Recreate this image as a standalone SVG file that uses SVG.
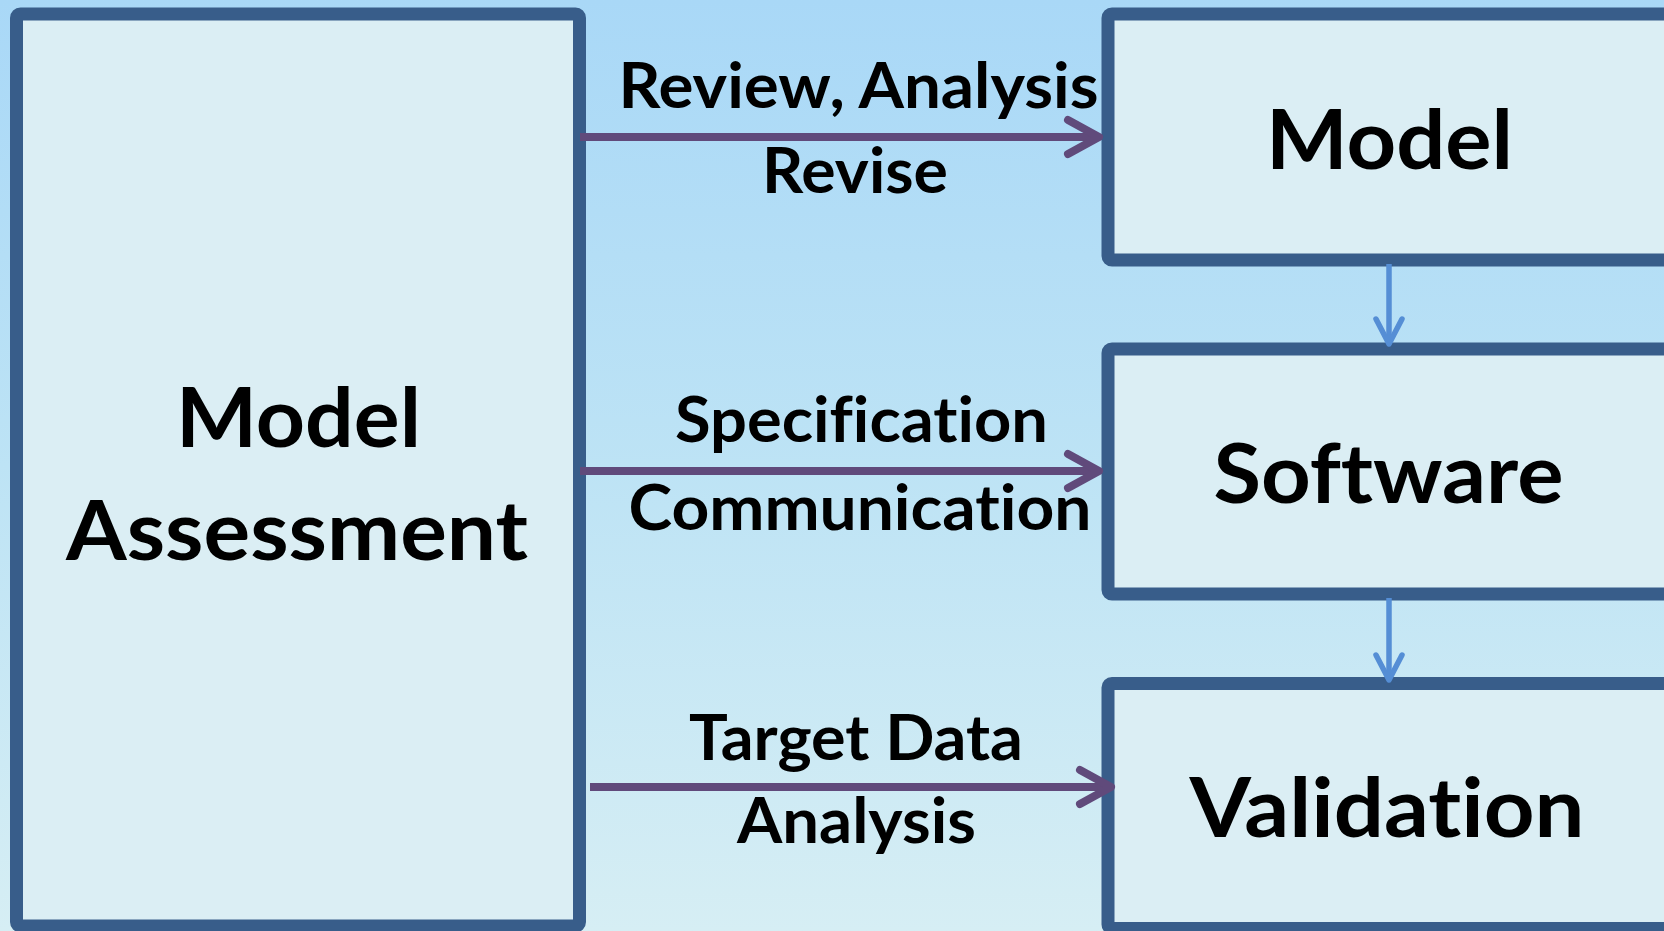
<svg xmlns="http://www.w3.org/2000/svg" width="1664" height="931" viewBox="0 0 1664 931">
  <defs>
    <linearGradient id="bg" x1="0" y1="0" x2="0" y2="1">
      <stop offset="0" stop-color="#a9d8f7"/>
      <stop offset="0.5" stop-color="#bde3f5"/>
      <stop offset="1" stop-color="#d6eef4"/>
    </linearGradient>
    <marker id="headPurple" markerUnits="userSpaceOnUse" markerWidth="60" markerHeight="60" refX="0" refY="0" orient="auto" overflow="visible">
      <path d="M-31,-17 L0,0 L-31,17" fill="none" stroke="#604a7b" stroke-width="8" stroke-linecap="round" stroke-linejoin="round"/>
    </marker>
    <marker id="headBlue" markerUnits="userSpaceOnUse" markerWidth="60" markerHeight="60" refX="0" refY="0" orient="auto" overflow="visible">
      <path d="M-25,-13 L0,0 L-25,13" fill="none" stroke="#558ed5" stroke-width="5.5" stroke-linecap="round" stroke-linejoin="round"/>
    </marker>
  </defs>
  <style>
    .box { fill: #dbeef4; stroke: #385d8a; stroke-width: 13; }
    .lbl { font-family: Lato, "Open Sans", "Liberation Sans", sans-serif; font-weight: 700; fill: #000; text-anchor: middle;
           font-variant-ligatures: none; font-feature-settings: "liga" 0, "clig" 0, "dlig" 0; }
    .sm { font-size: 63px; }
    .lg { font-size: 82px; }
    .flow { fill: none; stroke: #604a7b; stroke-width: 8; marker-end: url(#headPurple); }
    .step { fill: none; stroke: #558ed5; stroke-width: 5.5; marker-end: url(#headBlue); }
  </style>

  <rect x="0" y="0" width="1664" height="931" fill="url(#bg)"/>

  <!-- assessment column -->
  <g id="node-assessment">
    <rect class="box" x="16.5" y="14" width="563" height="912" rx="4"/>
    <text class="lbl lg" x="298.5" y="447" textLength="245" lengthAdjust="spacingAndGlyphs">Model</text>
    <text class="lbl lg" x="297" y="560" textLength="462" lengthAdjust="spacingAndGlyphs">Assessment</text>
  </g>

  <!-- right-hand stack -->
  <g id="node-model">
    <rect class="box" x="1108" y="14" width="620" height="246" rx="4"/>
    <text class="lbl lg" x="1389.5" y="169" textLength="247" lengthAdjust="spacingAndGlyphs">Model</text>
  </g>
  <g id="node-software">
    <rect class="box" x="1108" y="349" width="620" height="245" rx="4"/>
    <text class="lbl lg" x="1388.5" y="503" textLength="350" lengthAdjust="spacingAndGlyphs">Software</text>
  </g>
  <g id="node-validation">
    <rect class="box" x="1108" y="683.5" width="620" height="245" rx="4"/>
    <text class="lbl lg" x="1387" y="837" textLength="395" lengthAdjust="spacingAndGlyphs">Validation</text>
  </g>

  <!-- connectors -->
  <g id="connectors">
    <line class="flow" x1="580" y1="137" x2="1099" y2="137"/>
    <line class="flow" x1="580" y1="471" x2="1099" y2="471"/>
    <line class="flow" x1="590" y1="787" x2="1111" y2="787"/>
    <line class="step" x1="1389" y1="264" x2="1389" y2="344"/>
    <line class="step" x1="1389" y1="598" x2="1389" y2="680"/>
  </g>

  <!-- connector labels -->
  <g id="labels">
    <text class="lbl sm" x="858.5" y="108" textLength="480" lengthAdjust="spacingAndGlyphs">Review, Analysis</text>
    <text class="lbl sm" x="855" y="193" textLength="186" lengthAdjust="spacingAndGlyphs">Revise</text>
    <text class="lbl sm" x="861.5" y="442" textLength="373" lengthAdjust="spacingAndGlyphs">Specification</text>
    <text class="lbl sm" x="860" y="530" textLength="463" lengthAdjust="spacingAndGlyphs">Communication</text>
    <text class="lbl sm" x="856" y="760" textLength="334" lengthAdjust="spacingAndGlyphs">Target Data</text>
    <text class="lbl sm" x="856.5" y="843" textLength="239" lengthAdjust="spacingAndGlyphs">Analysis</text>
  </g>
</svg>
